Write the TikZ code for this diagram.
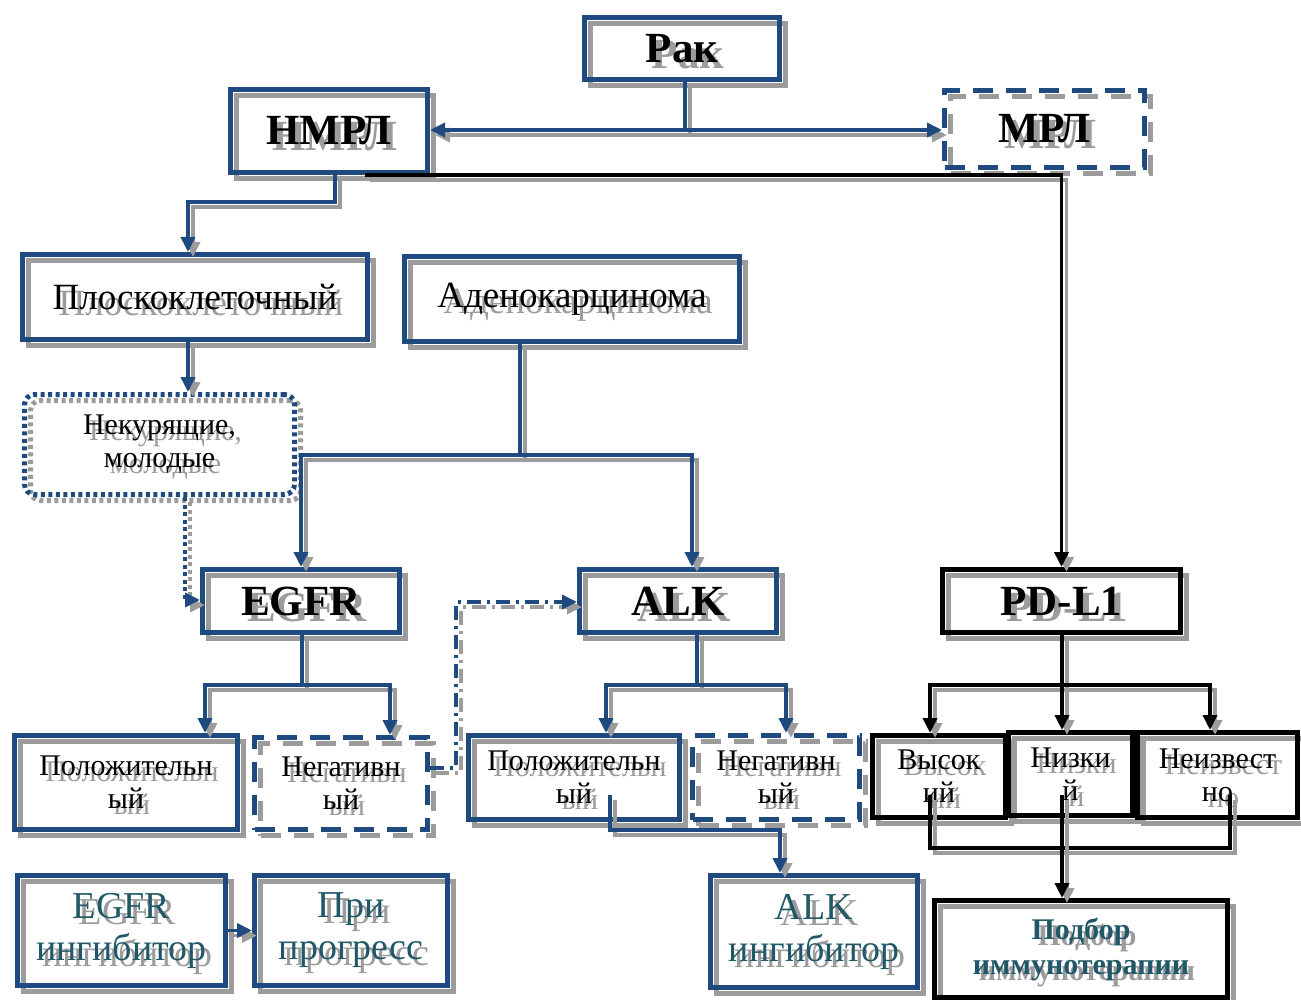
\documentclass[tikz,border=0pt]{standalone}
\usepackage{fontspec}
\setmainfont{Liberation Serif}
\usetikzlibrary{arrows.meta,calc}
\definecolor{bl}{HTML}{1F4A80}
\definecolor{tl}{HTML}{215868}
\definecolor{shg}{HTML}{9C9C9C}
\tikzset{
  box/.style={draw=bl, line width=5pt, inner sep=0pt, align=center, text=black},
  blkbox/.style={box, draw=black},
  dashbox/.style={box, dash pattern=on 20pt off 13pt},
  dotbox/.style={box, dash pattern=on 4pt off 3.5pt, rounded corners=10pt},
  shad/.style={draw=shg, text=shg},
  hfont/.style={font=\fontsize{43}{46}\selectfont\bfseries},
  mfont/.style={font=\fontsize{37}{41}\selectfont},
  ifont/.style={font=\fontsize{38}{42}\selectfont},
  sfont/.style={font=\fontsize{30}{33}\selectfont},
  pfont/.style={font=\fontsize{30}{35}\selectfont\bfseries},
  con/.style={draw=bl, line width=3.6pt},
  bcon/.style={draw=black, line width=3.6pt},
  tip/.style={-{Triangle[length=15pt,width=14pt]}},
  ddot/.style={con, dash pattern=on 4pt off 3.5pt},
  ddash/.style={con, dash pattern=on 14pt off 6pt on 3pt off 6pt},
}
\newcommand\bx[7]{%
  \node[#6, minimum width=#4pt, minimum height=#5pt, shad] (#1-s) at (#2+6,#3+6) {#7};
  \node[#6, minimum width=#4pt, minimum height=#5pt] (#1) at (#2,#3) {#7};}
\newcommand\cn[2]{%
  \draw[#1, draw=shg, transform canvas={xshift=5pt,yshift=-5pt}] #2;
  \draw[#1] #2;}
\begin{document}
\begin{tikzpicture}[x=1pt,y=-1pt]
\useasboundingbox (0,0) rectangle (1301,1000);
% boxes
\bx{rak}{682}{48.5}{195}{62}{box,hfont}{Рак}
\bx{nmrl}{329}{131}{197}{83}{box,hfont}{НМРЛ}
\bx{mrl}{1044.5}{129}{200}{77}{dashbox,hfont}{МРЛ}
\bx{plosk}{195}{297}{345}{85}{box,mfont}{Плоскоклеточный}
\bx{aden}{572}{299}{335}{85}{box,mfont}{Аденокарцинома}
\bx{nekur}{159.5}{444.5}{270}{100}{dotbox,sfont}{Некурящие,\\молодые}
\bx{egfr}{301}{601}{197}{63}{box,hfont}{EGFR}
\bx{alk}{678}{601}{197}{63}{box,hfont}{ALK}
\bx{pdl1}{1061.5}{601}{238}{63}{blkbox,hfont}{PD-L1}
\bx{epos}{126}{782.5}{223}{94}{box,sfont}{Положительн\\ый}
\bx{eneg}{341}{783.5}{173}{92}{dashbox,sfont}{Негативн\\ый}
\bx{apos}{574}{777.5}{211}{84}{box,sfont}{Положительн\\ый}
\bx{aneg}{776}{777.5}{167}{84}{dashbox,sfont}{Негативн\\ый}
\bx{high}{939}{776.5}{133}{82}{blkbox,sfont}{Высок\\ий}
\bx{low}{1070.5}{774}{124}{83}{blkbox,sfont}{Низки\\й}
\bx{unk}{1217.5}{775}{160}{85}{blkbox,sfont}{Неизвест\\но}
\bx{einh}{121.5}{930.5}{208}{110}{box,ifont,text=tl}{EGFR\\ингибитор}
\bx{prog}{351}{930.5}{193}{110}{box,ifont,text=tl}{При\\прогресс}
\bx{ainh}{814}{931.5}{207}{112}{box,ifont,text=tl}{ALK\\ингибитор}
\bx{podbor}{1081}{949}{293}{97}{blkbox,pfont,text=tl}{Подбор\\иммунотерапии}
% helper coordinates
\coordinate (j1) at (685,130);
\coordinate (b1) at (365,175);
\coordinate (c1) at (335,202);
\coordinate (c2) at (188,202);
\coordinate (d1) at (185,600);
\coordinate (e1) at (520,455);
\coordinate (e2) at (692,455);
\coordinate (f1) at (302,685);
\coordinate (f2) at (205,685);
\coordinate (f3) at (390,685);
\coordinate (g1) at (456,768);
\coordinate (g2) at (456,602);
\coordinate (h1) at (697,685);
\coordinate (h2) at (606,685);
\coordinate (h3) at (786,685);
\coordinate (k1) at (610,795);
\coordinate (k2) at (610,830);
\coordinate (k3) at (780,830);
\coordinate (m1) at (1062,685);
\coordinate (m2) at (930,685);
\coordinate (m3) at (1210,685);
\coordinate (n1) at (930,795);
\coordinate (n2) at (930,848);
\coordinate (n3) at (1230,848);
\coordinate (n4) at (1230,795);
\coordinate (n5) at (1062,795);
% connectors
\cn{con}{(rak.south -| j1) -- (j1)}
\cn{con,tip}{(j1) -- (nmrl.east |- j1)}
\cn{con,tip}{(j1) -- (mrl.west |- j1)}
\cn{bcon,tip}{(b1) -| (pdl1.north)}
\cn{con,tip}{(nmrl.south -| c1) -- (c1) -| (plosk.north -| c2)}
\cn{con,tip}{(plosk.south -| c2) -- (nekur.north -| c2)}
\cn{ddot,tip}{(nekur.south -| d1) -- (d1) -- (egfr.west |- d1)}
\cn{con}{(aden.south -| e1) -- (e1)}
\cn{con,tip}{(e1) -| (egfr.north)}
\cn{con,tip}{(e1) -| (alk.north -| e2)}
\cn{con}{(egfr.south -| f1) -- (f1)}
\cn{con,tip}{(f1) -| (epos.north -| f2)}
\cn{con,tip}{(f1) -| (eneg.north -| f3)}
\cn{ddash,tip}{(eneg.east |- g1) -- (g1) -- (g2) -- (alk.west |- g2)}
\cn{con}{(alk.south -| h1) -- (h1)}
\cn{con,tip}{(h1) -| (apos.north -| h2)}
\cn{con,tip}{(h1) -| (aneg.north -| h3)}
\cn{con,tip}{(k1) -- (k2) -| (ainh.north -| k3)}
\cn{bcon}{(pdl1.south -| m1) -- (m1)}
\cn{bcon,tip}{(m1) -| (high.north -| m2)}
\cn{bcon,tip}{(m1) -- (low.north -| m1)}
\cn{bcon,tip}{(m1) -| (unk.north -| m3)}
\cn{bcon}{(n1) -- (n2) -- (n3) -- (n4)}
\cn{bcon,tip}{(n5) -- (podbor.north -| n5)}
\cn{con,tip}{(einh.east) -- (prog.west)}
\end{tikzpicture}
\end{document}
